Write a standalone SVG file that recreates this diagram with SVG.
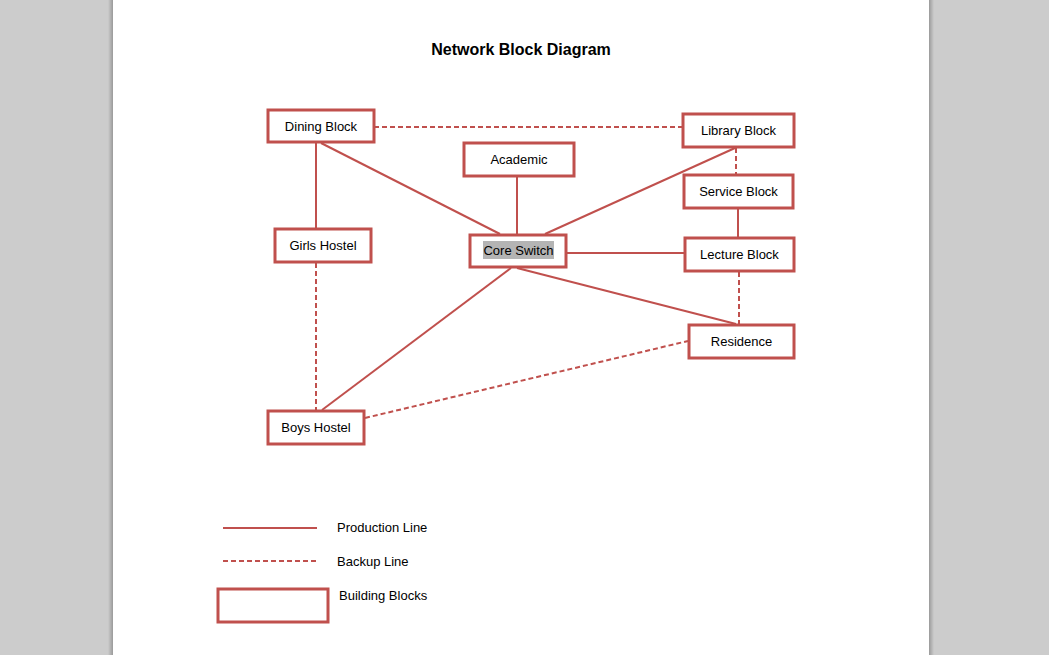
<svg xmlns="http://www.w3.org/2000/svg" width="1049" height="655" viewBox="0 0 1049 655">
<style>
.node rect.box{fill:#ffffff;stroke:#c0504d;stroke-width:3}
.lbl{font-family:"Liberation Sans",Arial,sans-serif;font-size:13px;fill:#000000;text-anchor:middle}
.leg{font-family:"Liberation Sans",Arial,sans-serif;font-size:13px;fill:#000000}
.title{font-family:"Liberation Sans",Arial,sans-serif;font-size:16px;font-weight:bold;fill:#000000;text-anchor:middle}
.solid{stroke:#c0504d;stroke-width:2;fill:none}
.dash{stroke:#c0504d;stroke-width:2;fill:none;stroke-dasharray:5 3}
</style>
<defs>
<linearGradient id="shL" x1="0" x2="1" y1="0" y2="0">
<stop offset="0" stop-color="#cccccc"/><stop offset="1" stop-color="#9a9a9a"/>
</linearGradient>
<linearGradient id="shR" x1="0" x2="1" y1="0" y2="0">
<stop offset="0" stop-color="#9a9a9a"/><stop offset="1" stop-color="#cccccc"/>
</linearGradient>
</defs>
<rect x="0" y="0" width="1049" height="655" fill="#cccccc"/>
<rect x="108" y="0" width="5" height="655" fill="url(#shL)"/>
<rect x="929" y="0" width="5" height="655" fill="url(#shR)"/>
<rect x="113" y="0" width="816" height="655" fill="#ffffff"/>
<text class="title" x="521" y="55">Network Block Diagram</text>
<g id="connectors">
<line class="dash" x1="374" y1="127" x2="682" y2="127"/>
<line class="solid" x1="316" y1="143" x2="316" y2="228"/>
<line class="solid" x1="321" y1="143" x2="500" y2="234"/>
<line class="solid" x1="517" y1="177" x2="517" y2="234"/>
<line class="solid" x1="545" y1="234" x2="735" y2="148"/>
<line class="dash" x1="736" y1="148" x2="736" y2="174"/>
<line class="solid" x1="738" y1="209" x2="738" y2="237"/>
<line class="solid" x1="567" y1="253" x2="684" y2="253"/>
<line class="dash" x1="739" y1="272" x2="739" y2="324"/>
<line class="solid" x1="517" y1="268" x2="736" y2="324"/>
<line class="solid" x1="511" y1="268" x2="322" y2="410"/>
<line class="dash" x1="316" y1="263" x2="316" y2="410"/>
<line class="dash" x1="365" y1="418" x2="688" y2="341"/>
</g>
<g id="dining" class="node"><rect class="box" x="268" y="110" width="106" height="32"/><text class="lbl" x="321" y="130.5">Dining Block</text></g>
<g id="academic" class="node"><rect class="box" x="464" y="143" width="110" height="33"/><text class="lbl" x="519" y="164">Academic</text></g>
<g id="library" class="node"><rect class="box" x="683" y="114" width="111" height="33"/><text class="lbl" x="738.5" y="135">Library Block</text></g>
<g id="service" class="node"><rect class="box" x="684" y="175" width="109" height="33"/><text class="lbl" x="738.5" y="196">Service Block</text></g>
<g id="girls" class="node"><rect class="box" x="275" y="229" width="96" height="33"/><text class="lbl" x="323" y="250">Girls Hostel</text></g>
<g id="core" class="node"><rect class="box" x="470" y="235" width="96" height="32"/><rect x="483" y="241" width="71" height="18" fill="#b4b4b4"/><text class="lbl" x="518.5" y="255">Core Switch</text></g>
<g id="lecture" class="node"><rect class="box" x="685" y="238" width="109" height="33"/><text class="lbl" x="739.5" y="259">Lecture Block</text></g>
<g id="residence" class="node"><rect class="box" x="689" y="325" width="105" height="33"/><text class="lbl" x="741.5" y="345.5">Residence</text></g>
<g id="boys" class="node"><rect class="box" x="268" y="411" width="96" height="33"/><text class="lbl" x="316" y="431.5">Boys Hostel</text></g>
<g id="legend">
<line class="solid" x1="223" y1="528" x2="317" y2="528"/>
<text class="leg" x="337" y="532">Production Line</text>
<line class="dash" x1="223" y1="561" x2="317" y2="561"/>
<text class="leg" x="337" y="566">Backup Line</text>
<rect x="218" y="589" width="110" height="33" fill="#ffffff" stroke="#c0504d" stroke-width="3"/>
<text class="leg" x="339" y="600">Building Blocks</text>
</g>
</svg>
